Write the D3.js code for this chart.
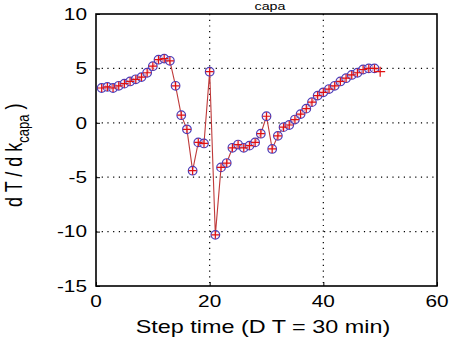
<!DOCTYPE html>
<html><head><meta charset="utf-8">
<script src="https://cdn.jsdelivr.net/npm/d3@7/dist/d3.min.js"></script>
<style>body{margin:0;background:#fff}svg{display:block}</style>
</head><body>
<svg id="c" width="453" height="339"></svg>
<script>
const steps = [1,2,3,4,5,6,7,8,9,10,11,12,13,14,15,16,17,18,19,20,21,22,23,24,25,26,27,28,29,30,31,32,33,34,35,36,37,38,39,40,41,42,43,44,45,46,47,48,49,50];
const sens = [3.2,3.3,3.2,3.4,3.6,3.8,4.0,4.2,4.6,5.2,5.8,5.9,5.7,3.4,0.7,-0.6,-4.4,-1.8,-1.9,4.7,-10.3,-4.1,-3.7,-2.3,-2.0,-2.3,-2.1,-1.8,-1.0,0.6,-2.4,-1.2,-0.4,-0.2,0.3,0.8,1.3,1.9,2.5,2.8,3.1,3.4,3.8,4.1,4.4,4.6,4.9,5.0,5.0,4.7];
const xTicks = [0,20,40,60];
const yTicks = [10,5,0,-5,-10,-15];

const svg = d3.select("#c");
const L=96, R=437, T=14, B=286;
const x = d3.scaleLinear().domain([0,60]).range([L,R]);
const y = d3.scaleLinear().domain([-15,10]).range([B,T]);
const FONT = "Liberation Sans, Arial, sans-serif";
const SX = 1.3;

// grid
svg.append("g").selectAll("line").data([20,40]).join("line")
  .attr("x1",d=>x(d)).attr("x2",d=>x(d)).attr("y1",T).attr("y2",B)
  .attr("stroke","#000").attr("stroke-width",1.2).attr("stroke-dasharray","1.2,4.5");
svg.append("g").selectAll("line").data([5,0,-5,-10]).join("line")
  .attr("x1",L).attr("x2",R).attr("y1",d=>y(d)).attr("y2",d=>y(d))
  .attr("stroke","#000").attr("stroke-width",1.2).attr("stroke-dasharray","1.2,4.5");

// axes with inner ticks
const gx = svg.append("g").attr("transform",`translate(0,${B})`)
  .call(d3.axisBottom(x).tickValues(xTicks).tickSize(-4).tickFormat(""));
const gy = svg.append("g").attr("transform",`translate(${L},0)`)
  .call(d3.axisLeft(y).tickValues(yTicks).tickSize(-4).tickFormat(""));
[gx,gy].forEach(g=>{g.select(".domain").remove(); g.selectAll("line").attr("stroke","#000");});

// frame
svg.append("rect").attr("x",L).attr("y",T).attr("width",R-L).attr("height",B-T)
  .attr("fill","none").attr("stroke","#000").attr("stroke-width",1.6);

function hText(px,py,str,anchor,size){
  const g = svg.append("g").attr("transform",`translate(${px},${py}) scale(${SX},1)`);
  return g.append("text").attr("text-anchor",anchor).attr("font-family",FONT)
    .attr("font-size",size).attr("fill","#000").text(str);
}
xTicks.forEach(d=>hText(x(d),307,String(d),"middle",16));
yTicks.forEach(d=>hText(L-9,y(d)+5.8,String(d),"end",16));

// x label
hText(263,333,"Step time (D T = 30 min)","middle",18);

// title (top, mostly cut off in the original)
hText(270,10,"capa","middle",11);

// y label
const gl = svg.append("g").attr("transform",`translate(22,207) scale(${SX},1) rotate(-90)`);
const yl = gl.append("text").attr("font-family",FONT).attr("font-size",18).attr("fill","#000");
yl.append("tspan").text("d T / d k");
yl.append("tspan").attr("font-size",13).attr("dy",5).text("capa");
yl.append("tspan").attr("dy",-5).text(" )");

// series
const data = steps.map((s,i)=>({s,v:sens[i]}));
svg.append("path").datum(data)
  .attr("d",d3.line().x(d=>x(d.s)).y(d=>y(d.v)))
  .attr("fill","none").attr("stroke","#bf3a3a").attr("stroke-width",1.1);
svg.append("g").selectAll("circle").data(data.slice(0,49)).join("circle")
  .attr("cx",d=>x(d.s)).attr("cy",d=>y(d.v)).attr("r",4.3)
  .attr("fill","#fbe8f0").attr("fill-opacity",0.6).attr("stroke","#4a3cb8").attr("stroke-width",1.2);
svg.append("g").selectAll("path").data(data).join("path")
  .attr("d",d=>{const cx=x(d.s),cy=y(d.v),h=d.s===50?5:4;return `M${cx-h},${cy}H${cx+h}M${cx},${cy-h}V${cy+h}`;})
  .attr("stroke","#e01010").attr("stroke-width",1.2);
</script>
</body></html>
